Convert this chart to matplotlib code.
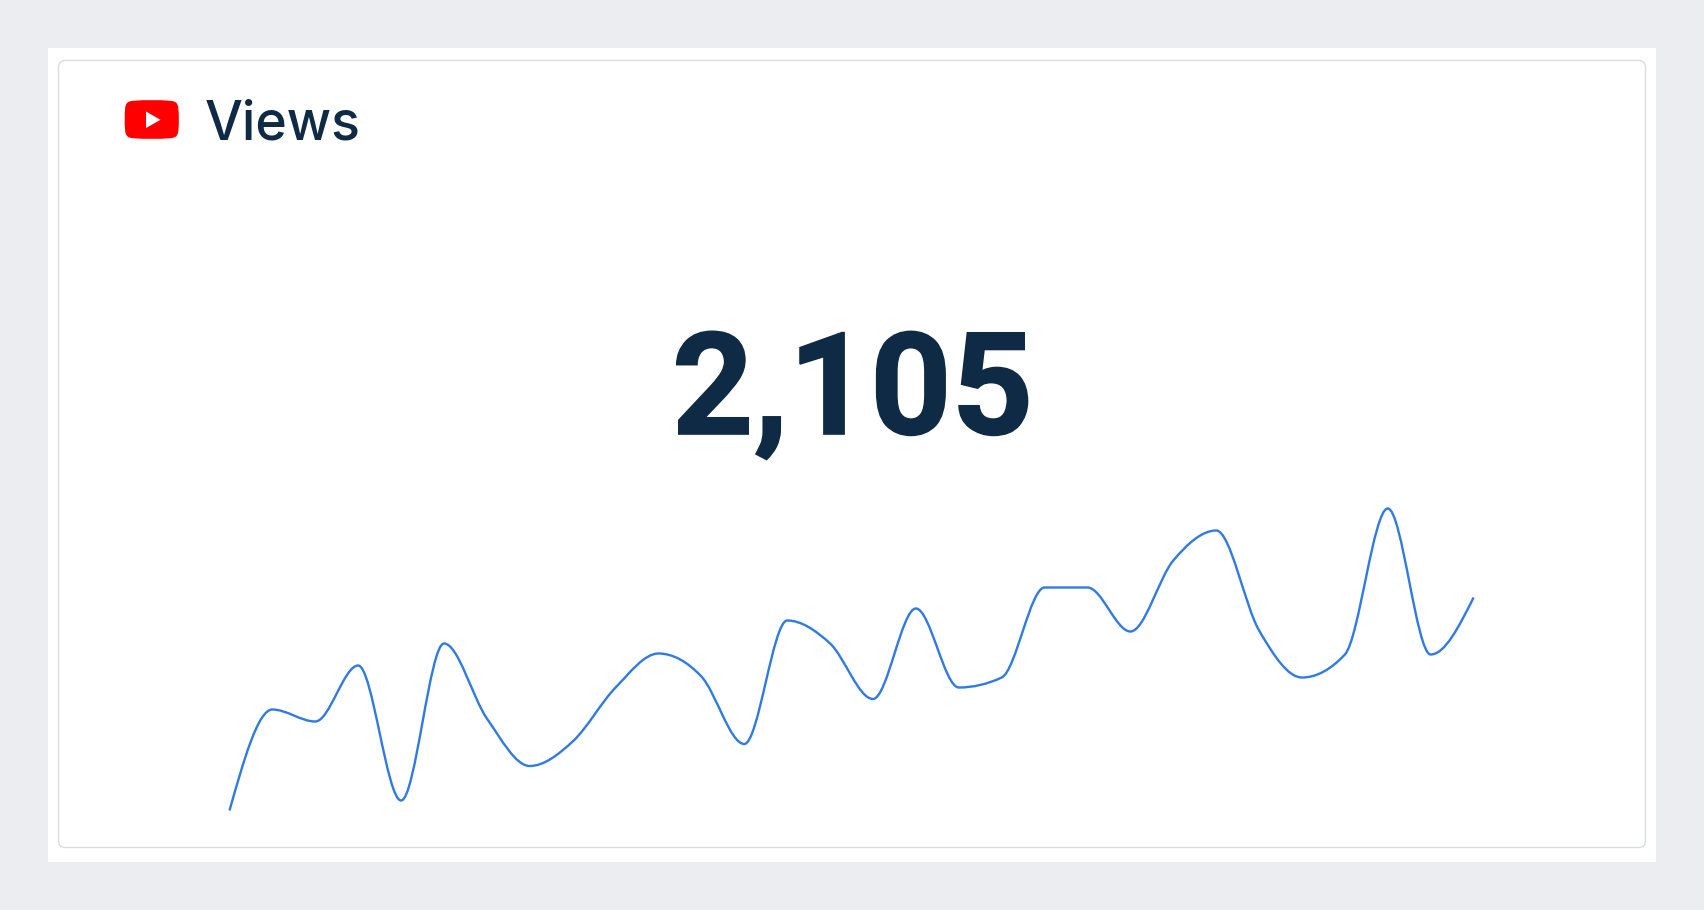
import numpy as np
import matplotlib
matplotlib.use('Agg')
import matplotlib.pyplot as plt
import matplotlib.patheffects as PathEffects
from matplotlib.patches import FancyBboxPatch, PathPatch, Polygon, Rectangle
from matplotlib.path import Path

title = 'Views'
total = '2,105'

# one value per step, as height above the card's bottom edge
line_h = [37, 138, 126, 182, 47, 204, 129, 81.5, 106, 160,
          194, 171, 103.5, 227, 204, 148.5, 239, 160, 170, 260,
          260, 216, 287, 317, 217, 170, 193, 339, 193, 250]
line_x = list(range(len(line_h)))

BG = '#ebedf1'
NAVY = '#0f2a44'
BLUE = '#2f7ae5'
BORDER = '#d9dce1'
RED = '#ff0000'


# same tangents as a monotone curve in d3, so the line does not overshoot its points
def monotone_path(x, y):
    x, y = np.asarray(x, float), np.asarray(y, float)
    h = np.diff(x)
    s = np.diff(y) / h
    t = np.zeros(len(x))
    for i in range(1, len(x) - 1):
        p = (s[i-1]*h[i] + s[i]*h[i-1]) / (h[i-1] + h[i])
        sign = np.sign(s[i-1]) + np.sign(s[i])
        t[i] = sign * min(abs(s[i-1]), abs(s[i]), 0.5*abs(p))
    t[0] = (3*s[0] - t[1]) / 2
    t[-1] = (3*s[-1] - t[-2]) / 2
    verts = [(x[0], y[0])]
    codes = [Path.MOVETO]
    for i in range(len(h)):
        d = h[i] / 3
        verts += [(x[i]+d, y[i]+d*t[i]), (x[i+1]-d, y[i+1]-d*t[i+1]), (x[i+1], y[i+1])]
        codes += [Path.CURVE4] * 3
    return Path(verts, codes)


fig = plt.figure(figsize=(17.04, 9.10), dpi=100, facecolor=BG)

# frame layer in pixels, y pointing down
ax = fig.add_axes([0, 0, 1, 1])
ax.set_xlim(0, 1704)
ax.set_ylim(910, 0)
ax.axis('off')

ax.add_patch(Rectangle((48, 48), 1608, 814, fc='white', ec='none'))
ax.add_patch(FancyBboxPatch((58.5, 60.5), 1587, 787, boxstyle='round,pad=0,rounding_size=7',
                            fc='white', ec=BORDER, lw=1.0))

# youtube logo, sides bulge a little
logo = Path([(133, 100.8), (151.8, 99.2), (170.5, 100.8),
             (178, 101), (178.3, 108), (179.6, 119.5), (178.3, 131),
             (178, 138), (170.5, 138.2), (151.8, 139.8), (133, 138.2),
             (125.5, 138), (125.2, 131), (123.9, 119.5), (125.2, 108),
             (125.5, 101), (133, 100.8)],
            [Path.MOVETO, Path.CURVE3, Path.CURVE3,
             Path.CURVE3, Path.CURVE3, Path.CURVE3, Path.CURVE3,
             Path.CURVE3, Path.CURVE3, Path.CURVE3, Path.CURVE3,
             Path.CURVE3, Path.CURVE3, Path.CURVE3, Path.CURVE3,
             Path.CURVE3, Path.CURVE3])
ax.add_patch(PathPatch(logo, fc=RED, ec='none'))
ax.add_patch(Polygon([(146, 111.5), (160.5, 119.8), (146, 128)], fc='white', ec='none'))

ax.text(205, 140, title, fontsize=38.5, family='Inter', weight='medium', color=NAVY,
        ha='left', va='baseline')
ax.text(852.5, 434, total, fontsize=102.5, family='Roboto', weight='bold', color=NAVY,
        ha='center', va='baseline',
        path_effects=[PathEffects.withStroke(linewidth=1.2, foreground=NAVY, joinstyle='miter')])

# sparkline layer: steps run from x=229.5 to x=1473.6 px
ax2 = fig.add_axes([229.5/1704, 0, (1473.6-229.5)/1704, 1])
ax2.patch.set_alpha(0)
ax2.set_xlim(line_x[0], line_x[-1])
ax2.set_ylim(847.5 - 910, 847.5)
ax2.axis('off')
ax2.add_patch(PathPatch(monotone_path(line_x, line_h), fc='none', ec=BLUE, lw=1.7, capstyle='butt',
                        clip_on=False))

fig.savefig('out.png', dpi=100, facecolor=BG)
